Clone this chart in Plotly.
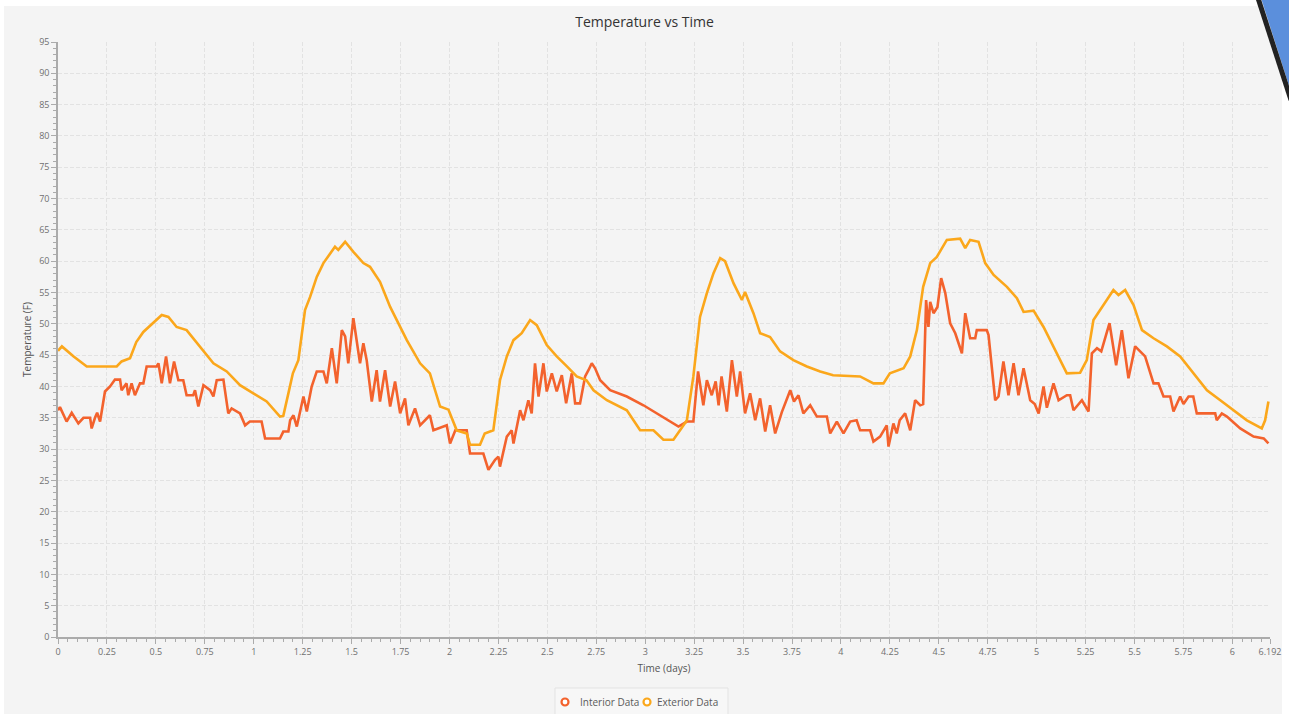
import plotly.graph_objects as go

# ---------------- data ----------------
exterior_t = [0, 0.02, 0.08, 0.147, 0.30, 0.325, 0.368, 0.40, 0.436, 0.487, 0.53, 0.564, 0.606, 0.657,
              0.726, 0.794, 0.862, 0.93, 0.998, 1.066, 1.134, 1.151, 1.177, 1.20, 1.228, 1.262, 1.288,
              1.322, 1.356, 1.39, 1.415, 1.432, 1.467, 1.509, 1.56, 1.594, 1.645, 1.697, 1.748, 1.782,
              1.85, 1.90, 1.952, 1.995, 2.037, 2.088, 2.105, 2.156, 2.18, 2.224, 2.258, 2.293, 2.327,
              2.369, 2.412, 2.446, 2.497, 2.548, 2.6, 2.65, 2.70, 2.736, 2.804, 2.906, 2.974, 3.042,
              3.093, 3.144, 3.178, 3.213, 3.246, 3.28, 3.315, 3.349, 3.383, 3.408, 3.451, 3.494, 3.51,
              3.553, 3.587, 3.638, 3.689, 3.757, 3.826, 3.894, 3.96, 4.098, 4.166, 4.217, 4.25, 4.32,
              4.354, 4.388, 4.42, 4.456, 4.49, 4.541, 4.609, 4.635, 4.66, 4.703, 4.737, 4.78, 4.848,
              4.899, 4.933, 4.984, 5.035, 5.086, 5.12, 5.154, 5.222, 5.256, 5.29, 5.341, 5.392, 5.418,
              5.452, 5.495, 5.538, 5.597, 5.665, 5.733, 5.80, 5.87, 5.938, 6.006, 6.074, 6.15, 6.167,
              6.184]
exterior_temp = [45.7, 46.4, 44.8, 43.2, 43.2, 44.0, 44.5, 47.1, 48.7, 50.1, 51.4, 51.1, 49.5, 49.0,
                 46.4, 43.7, 42.4, 40.2, 38.9, 37.6, 35.2, 35.3, 38.9, 42.1, 44.2, 52.2, 54.3,
                 57.5, 59.7, 61.3, 62.3, 61.8, 63.1, 61.5, 59.7, 59.1, 56.7, 52.7, 49.5, 47.4,
                 43.7, 42.1, 36.8, 36.3, 33.0, 32.5, 30.7, 30.7, 32.5, 33.0, 41.0, 44.8, 47.4,
                 48.5, 50.6, 49.8, 46.6, 44.8, 43.2, 41.6, 41.0, 39.4, 37.8, 36.2, 33.0, 33.0,
                 31.5, 31.5, 33.0, 34.6, 41.6, 51.1, 54.9, 58.1, 60.5, 60.0, 56.5, 53.8, 55.1,
                 51.7, 48.5, 47.9, 45.6, 44.2, 43.2, 42.4, 41.8, 41.6, 40.5, 40.5, 42.1, 42.9,
                 44.8, 49.0, 55.9, 59.7, 60.7, 63.4, 63.6, 62.1, 63.4, 63.1, 59.7, 57.8, 55.9,
                 54.1, 51.9, 52.1, 49.5, 46.4, 44.2, 42.1, 42.2, 44.2, 50.6, 53.0, 55.4, 54.6,
                 55.4, 53.0, 49.0, 47.7, 46.4, 44.8, 42.1, 39.4, 37.8, 36.2, 34.6, 33.3, 34.6,
                 37.6]

interior_t = [0, 0.01, 0.044, 0.07, 0.104, 0.13, 0.164, 0.172, 0.189, 0.2, 0.215, 0.24, 0.266, 0.291,
              0.317, 0.325, 0.35, 0.359, 0.376, 0.393, 0.419, 0.436, 0.453, 0.504, 0.513, 0.53, 0.552,
              0.572, 0.593, 0.615, 0.64, 0.657, 0.691, 0.70, 0.717, 0.743, 0.777, 0.794, 0.811, 0.845,
              0.87, 0.887, 0.93, 0.956, 0.98, 1.04, 1.058, 1.134, 1.151, 1.177, 1.186, 1.203, 1.22,
              1.254, 1.271, 1.296, 1.322, 1.356, 1.373, 1.399, 1.424, 1.45, 1.467, 1.483, 1.509, 1.543,
              1.56, 1.577, 1.603, 1.628, 1.645, 1.671, 1.697, 1.722, 1.748, 1.773, 1.79, 1.824, 1.85,
              1.90, 1.918, 1.986, 2.003, 2.03, 2.088, 2.105, 2.173, 2.199, 2.233, 2.25, 2.258, 2.293,
              2.318, 2.327, 2.361, 2.378, 2.403, 2.42, 2.437, 2.455, 2.48, 2.497, 2.523, 2.548, 2.574,
              2.596, 2.625, 2.642, 2.667, 2.693, 2.71, 2.727, 2.744, 2.77, 2.821, 2.906, 2.991, 3.076,
              3.144, 3.17, 3.213, 3.246, 3.27, 3.297, 3.315, 3.34, 3.36, 3.375, 3.39, 3.417, 3.443,
              3.468, 3.485, 3.51, 3.536, 3.562, 3.587, 3.613, 3.638, 3.664, 3.698, 3.741, 3.76, 3.783,
              3.808, 3.843, 3.877, 3.928, 3.945, 3.979, 4.013, 4.047, 4.08, 4.098, 4.149, 4.166, 4.2,
              4.234, 4.243, 4.268, 4.285, 4.30, 4.328, 4.354, 4.379, 4.405, 4.42, 4.435, 4.447, 4.456,
              4.473, 4.493, 4.512, 4.533, 4.558, 4.584, 4.618, 4.635, 4.66, 4.686, 4.694, 4.745, 4.754,
              4.771, 4.788, 4.805, 4.83, 4.856, 4.882, 4.907, 4.933, 4.967, 4.99, 5.01, 5.035, 5.052,
              5.086, 5.112, 5.154, 5.171, 5.188, 5.231, 5.265, 5.282, 5.308, 5.33, 5.372, 5.406, 5.435,
              5.469, 5.503, 5.554, 5.597, 5.622, 5.648, 5.682, 5.699, 5.733, 5.75, 5.776, 5.80, 5.818,
              5.912, 5.92, 5.946, 5.972, 6.04, 6.108, 6.16, 6.184]
interior_temp = [36.2, 36.7, 34.4, 35.8, 34.1, 35.0, 35.0, 33.3, 35.0, 35.8, 34.4, 39.2, 40.0, 41.1,
                 41.1, 39.4, 40.5, 38.6, 40.5, 38.6, 40.5, 40.5, 43.2, 43.2, 43.7, 40.5, 44.8,
                 40.5, 44.0, 41.0, 41.0, 38.6, 38.6, 39.4, 36.8, 40.2, 39.4, 38.4, 41.0, 41.1,
                 35.7, 36.5, 35.7, 33.8, 34.4, 34.4, 31.7, 31.7, 32.8, 32.8, 34.6, 35.4, 33.6,
                 38.4, 36.0, 40.0, 42.4, 42.4, 40.5, 46.1, 40.5, 49.0, 48.0, 43.7, 50.9, 43.7,
                 46.9, 44.2, 37.6, 42.6, 37.6, 42.6, 36.8, 40.8, 35.7, 38.1, 33.8, 36.5, 33.8,
                 35.4, 33.0, 33.8, 30.9, 33.0, 33.0, 29.3, 29.3, 26.7, 28.3, 28.8, 27.2, 32.0,
                 33.0, 30.9, 36.2, 34.6, 37.8, 35.7, 43.7, 38.4, 43.7, 39.2, 42.1, 39.2, 41.8,
                 37.3, 42.1, 37.3, 37.3, 41.6, 42.6, 43.7, 42.9, 41.0, 39.4, 38.4, 37.0, 35.4,
                 34.1, 33.6, 34.4, 34.4, 42.4, 37.0, 41.0, 38.6, 40.8, 37.0, 41.6, 36.0, 44.2,
                 38.4, 42.4, 35.7, 38.9, 34.6, 38.1, 32.8, 37.0, 32.5, 35.9, 39.4, 37.6, 38.6,
                 35.7, 37.0, 35.2, 35.2, 32.5, 34.4, 32.5, 34.4, 34.6, 33.0, 33.0, 31.2, 32.0,
                 33.8, 30.4, 34.1, 32.5, 34.6, 35.7, 33.0, 37.8, 37.0, 37.2, 53.8, 49.5, 53.5,
                 51.7, 52.7, 57.3, 54.9, 50.1, 48.5, 45.3, 51.7, 47.7, 47.7, 49.0, 49.0, 48.2,
                 42.6, 37.8, 38.4, 44.0, 38.6, 43.7, 38.6, 42.9, 37.8, 37.2, 35.7, 40.0, 36.6,
                 40.5, 37.8, 38.6, 38.6, 36.2, 37.8, 36.0, 45.3, 46.1, 45.6, 50.1, 43.4, 49.0,
                 41.3, 46.4, 44.8, 40.5, 40.5, 38.4, 38.4, 36.0, 38.4, 37.2, 38.4, 38.4, 35.7,
                 35.7, 34.6, 35.7, 35.2, 33.3, 32.0, 31.7, 30.9]

x_tick_vals = [0, 0.25, 0.5, 0.75, 1, 1.25, 1.5, 1.75, 2, 2.25, 2.5, 2.75, 3, 3.25, 3.5, 3.75,
               4, 4.25, 4.5, 4.75, 5, 5.25, 5.5, 5.75, 6, 6.192]
x_tick_text = ["0", "0.25", "0.5", "0.75", "1", "1.25", "1.5", "1.75", "2", "2.25", "2.5", "2.75",
               "3", "3.25", "3.5", "3.75", "4", "4.25", "4.5", "4.75", "5", "5.25", "5.5", "5.75",
               "6", "6.192"]
x_max = 6.192
y_max = 95

series_names = ["Interior Data", "Exterior Data"]
series_colors = ["#f3622d", "#fba71b"]

# ---------------- figure ----------------
W, H = 1289, 714
ML, MR, MT, MB = 58, 19, 42, 77
PW, PH = W - ML - MR, H - MT - MB


def px_x(p):
    return (p - ML) / PW


def px_y(p):
    return (H - MB - p) / PH


fig = go.Figure()

fig.add_trace(go.Scatter(x=interior_t, y=interior_temp, mode="lines", name=series_names[0],
                         line=dict(color=series_colors[0], width=2.6), showlegend=False))
fig.add_trace(go.Scatter(x=exterior_t, y=exterior_temp, mode="lines", name=series_names[1],
                         line=dict(color=series_colors[1], width=2.6), showlegend=False))

font_family = "Open Sans, Noto Sans, sans-serif"
tick_color = "#707070"
grid_color = "#e2e2e2"
axis_color = "#ababab"

# legend drawn as shapes + text (compact, JavaFX style)
legend_shapes = [
    dict(type="rect", xref="paper", yref="paper", x0=px_x(555), x1=px_x(728),
         y0=px_y(716), y1=px_y(688), fillcolor="#f7f7f7", line=dict(color="#e3e3e3", width=1),
         layer="above"),
]
legend_annots = []
legend_items = [(565, 578), (647, 655)]
for (cx, tx), nm, col in zip(legend_items, series_names, series_colors):
    legend_shapes.append(dict(type="circle", xref="paper", yref="paper",
                              x0=px_x(cx - 3.5), x1=px_x(cx + 3.5), y0=px_y(702 + 3.5), y1=px_y(702 - 3.5),
                              fillcolor="white", line=dict(color=col, width=2.2), layer="above"))
    legend_annots.append(dict(text=nm, xref="paper", yref="paper", x=px_x(tx), y=px_y(702),
                              xanchor="left", yanchor="middle", showarrow=False,
                              font=dict(size=10, color="#5a5a5a", family=font_family)))

fig.update_layout(
    width=W, height=H,
    margin=dict(l=ML, r=MR, t=MT, b=MB),
    paper_bgcolor="white",
    plot_bgcolor="rgba(0,0,0,0)",
    font=dict(family=font_family, size=9, color=tick_color),
    title=dict(text="Temperature vs Time", x=0.5, xanchor="center", xref="container",
               y=1 - 22 / H, yanchor="middle", yref="container",
               font=dict(size=14, color="#333333", family=font_family)),
    showlegend=False,
    shapes=[
        dict(type="rect", xref="paper", yref="paper", x0=px_x(4), x1=px_x(1282),
             y0=px_y(716), y1=px_y(6), fillcolor="#f4f4f4", line=dict(width=0), layer="below"),
        dict(type="path", xref="paper", yref="paper",
             path=f"M {px_x(1261)} {px_y(-2)} L {px_x(1291)} {px_y(-2)} L {px_x(1291)} {px_y(92)} Z",
             fillcolor="#5b8fdc", line=dict(width=0), layer="above"),
        dict(type="line", xref="paper", yref="paper", x0=px_x(1258), y0=px_y(-2),
             x1=px_x(1291), y1=px_y(100),
             line=dict(color="#222222", width=5), layer="above"),
    ] + legend_shapes,
    annotations=legend_annots,
)

fig.update_xaxes(
    range=[0, x_max], tickmode="array", tickvals=x_tick_vals, ticktext=x_tick_text,
    showgrid=True, gridcolor=grid_color, griddash="4px,2px", gridwidth=1,
    zeroline=False, showline=True, linecolor=axis_color, linewidth=1.5,
    ticks="outside", ticklen=5, tickcolor=axis_color,
    tickfont=dict(size=9, color=tick_color),
    minor=dict(dtick=0.05, tick0=0, ticks="outside", ticklen=3, tickcolor=axis_color, showgrid=False),
    title=dict(text="Time (days)", font=dict(size=10, color="#555555"), standoff=8),
    automargin=False, fixedrange=True,
)
fig.update_yaxes(
    range=[0, y_max], dtick=5, tick0=0,
    showgrid=True, gridcolor=grid_color, griddash="4px,2px", gridwidth=1,
    zeroline=False, showline=True, linecolor=axis_color, linewidth=1.5,
    ticks="outside", ticklen=5, tickcolor=axis_color,
    tickfont=dict(size=9, color=tick_color),
    minor=dict(dtick=1, tick0=0, ticks="outside", ticklen=3, tickcolor=axis_color, showgrid=False),
    title=dict(text="Temperature (F)", font=dict(size=10, color="#555555"), standoff=6),
    automargin=False, fixedrange=True,
)

fig.write_html("out.html")
